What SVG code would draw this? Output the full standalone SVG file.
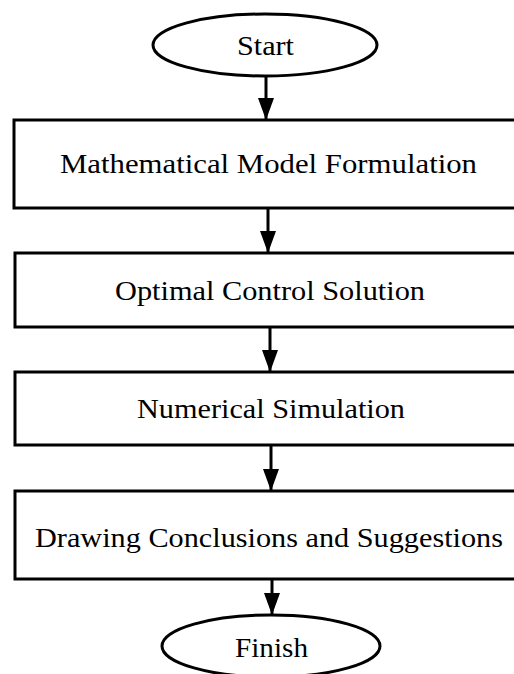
<svg xmlns="http://www.w3.org/2000/svg" width="514" height="674" viewBox="0 0 514 674">
<style>
.shape{fill:#fff;stroke:#000;stroke-width:3}
.lbl{font-family:"Liberation Serif","Times New Roman",serif;font-size:28px;fill:#000;text-anchor:middle}
.conn{stroke:#000;stroke-width:3;fill:none}
</style>
<defs>
<marker id="a" markerUnits="userSpaceOnUse" markerWidth="22" markerHeight="16" refX="21" refY="8" orient="auto" viewBox="0 0 22 16">
<path d="M0,0 L22,8 L0,16 Z" fill="#000"/>
</marker>
</defs>
<rect width="514" height="674" fill="#fff"/>
<g id="start">
<ellipse class="shape" cx="265" cy="45" rx="112" ry="31"/>
<text class="lbl" x="265.5" y="55" textLength="57" lengthAdjust="spacingAndGlyphs">Start</text>
</g>
<g id="model">
<rect class="shape" x="14" y="120" width="520" height="88"/>
<text class="lbl" x="268.5" y="173" textLength="417" lengthAdjust="spacingAndGlyphs">Mathematical Model Formulation</text>
</g>
<g id="control">
<rect class="shape" x="15" y="253" width="520" height="74"/>
<text class="lbl" x="270" y="299.5" textLength="310" lengthAdjust="spacingAndGlyphs">Optimal Control Solution</text>
</g>
<g id="simulation">
<rect class="shape" x="15" y="372" width="520" height="73"/>
<text class="lbl" x="271" y="418" textLength="268" lengthAdjust="spacingAndGlyphs">Numerical Simulation</text>
</g>
<g id="conclusions">
<rect class="shape" x="15" y="491" width="520" height="88"/>
<text class="lbl" x="269" y="547" textLength="468" lengthAdjust="spacingAndGlyphs">Drawing Conclusions and Suggestions</text>
</g>
<g id="finish">
<ellipse class="shape" cx="271" cy="646" rx="109" ry="31"/>
<text class="lbl" x="271.5" y="657" textLength="73" lengthAdjust="spacingAndGlyphs">Finish</text>
</g>
<g id="connectors">
<line class="conn" x1="266" y1="76" x2="266" y2="119" marker-end="url(#a)"/>
<line class="conn" x1="268" y1="208" x2="268" y2="252" marker-end="url(#a)"/>
<line class="conn" x1="270" y1="327" x2="270" y2="371" marker-end="url(#a)"/>
<line class="conn" x1="271" y1="445" x2="271" y2="490" marker-end="url(#a)"/>
<line class="conn" x1="272" y1="579" x2="272" y2="614" marker-end="url(#a)"/>
</g>
</svg>
